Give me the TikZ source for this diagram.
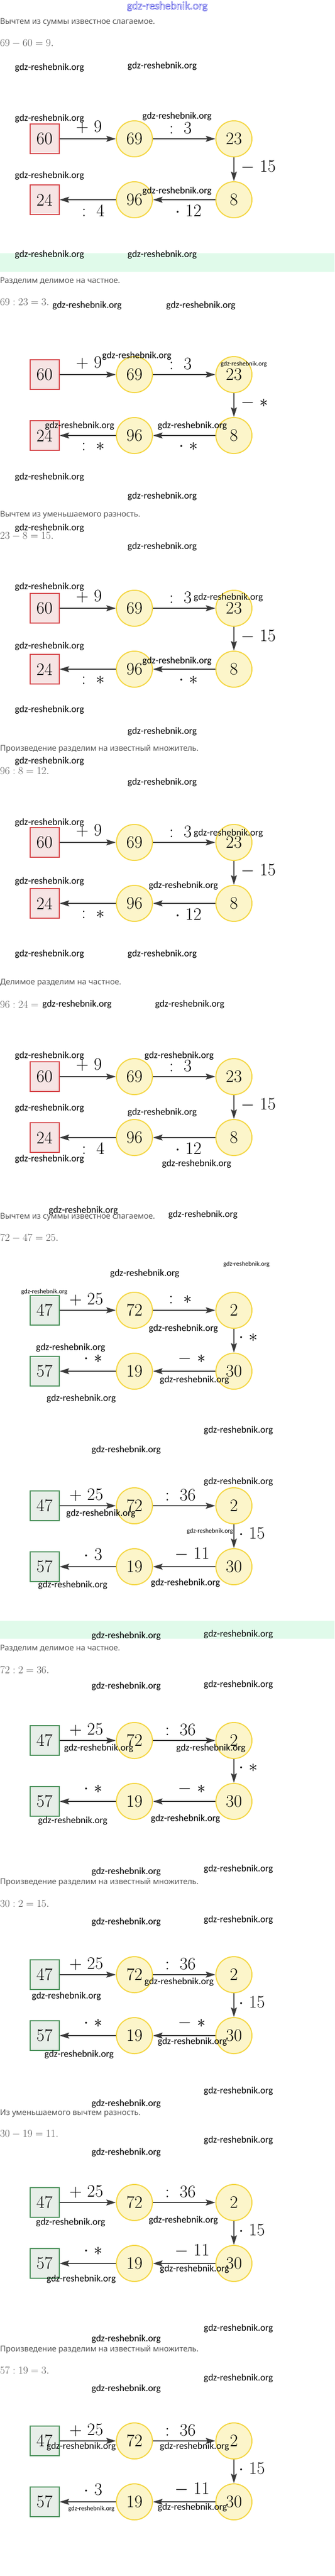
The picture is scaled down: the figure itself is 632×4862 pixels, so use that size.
\RequirePackage{fix-cm}
\documentclass[tikz,border=0pt]{standalone}
\usepackage{fontspec}
\newfontfamily\wmfont{Carlito}
\newfontfamily\rufont{Noto Sans}
\usetikzlibrary{arrows.meta}
\definecolor{circfill}{RGB}{252,245,202}
\definecolor{circline}{RGB}{244,214,66}
\definecolor{redline}{RGB}{214,72,76}
\definecolor{redfill}{RGB}{246,228,228}
\definecolor{grnline}{RGB}{76,146,92}
\definecolor{grnfill}{RGB}{231,238,232}
\definecolor{arrcol}{RGB}{58,58,58}
\definecolor{txtgray}{RGB}{85,85,85}
\definecolor{bandcol}{RGB}{224,250,234}
\definecolor{hdrblue}{RGB}{70,70,225}
\newcommand\outlinetext[1]{\special{pdf:literal direct 1 Tr 0.6 w}#1\special{pdf:literal direct 0 Tr}}
\tikzset{
  numc/.style={circle, draw=circline, fill=circfill, line width=2pt, minimum size=68pt, inner sep=0pt, font=\fontsize{33}{33}\selectfont},
  sqr/.style={rectangle, draw=redline, fill=redfill, line width=2pt, minimum width=55pt, minimum height=56pt, inner sep=0pt, font=\fontsize{33}{33}\selectfont},
  sqg/.style={sqr, draw=grnline, fill=grnfill},
  flow/.style={draw=arrcol, line width=2.6pt, -{Stealth[length=18pt,width=11pt,inset=3pt]}},
  oplab/.style={inner sep=0pt, font=\fontsize{33}{33}\selectfont},
  wm/.style={anchor=west, inner sep=0pt, font=\wmfont\fontsize{18}{18}\selectfont},
  wms/.style={anchor=west, inner sep=0pt, font=\wmfont\fontsize{12}{12}\selectfont},
  expl/.style={anchor=west, inner sep=0pt, text=txtgray, font=\rufont\fontsize{15}{15}\selectfont},
  eqn/.style={anchor=west, inner sep=0pt, text=txtgray, font=\fontsize{20}{20}\selectfont},
}
% red diagram: #1 name, #2 row y, #3 vertical label, #4 bottom-left label, #5 bottom-middle label
\newcommand\reddiag[5]{%
  \node[sqr]  (#1a) at (84,#2) {60};
  \node[numc] (#1b) at (254,#2) {69};
  \node[numc] (#1c) at (442,#2) {23};
  \node[numc] (#1d) at (442,#2+115) {8};
  \node[numc] (#1e) at (254,#2+115) {96};
  \node[sqr]  (#1f) at (84,#2+115) {24};
  \draw[flow] (#1a) -- (#1b);
  \draw[flow] (#1b) -- (#1c);
  \draw[flow] (#1c) -- (#1d);
  \draw[flow] (#1d) -- (#1e);
  \draw[flow] (#1e) -- (#1f);
  \node[oplab] (#1l1) at (168,#2-22) {$+\ 9$};
  \node[oplab] (#1l2) at (341,#2-20) {$:\ 3$};
  \node[oplab, anchor=west] (#1l3) at (455,#2+53) {$#3$};
  \node[oplab] (#1l4) at (176,#2+136) {$#4$};
  \node[oplab] (#1l5) at (356,#2+136) {$#5$};
}
% green diagram: #1 name, #2 row y, #3 top-middle label, #4 vertical, #5 bottom-left, #6 bottom-middle
\newcommand\grndiag[6]{%
  \node[sqg]  (#1a) at (84,#2) {47};
  \node[numc] (#1b) at (254,#2) {72};
  \node[numc] (#1c) at (442,#2) {2};
  \node[numc] (#1d) at (442,#2+115) {30};
  \node[numc] (#1e) at (254,#2+115) {19};
  \node[sqg]  (#1f) at (84,#2+115) {57};
  \draw[flow] (#1a) -- (#1b);
  \draw[flow] (#1b) -- (#1c);
  \draw[flow] (#1c) -- (#1d);
  \draw[flow] (#1d) -- (#1e);
  \draw[flow] (#1e) -- (#1f);
  \node[oplab] (#1l1) at (163,#2-20) {$+\ 25$};
  \node[oplab] (#1l2) at (341,#2-20) {$#3$};
  \node[oplab, anchor=west] (#1l3) at (451,#2+52) {$#4$};
  \node[oplab] (#1l4) at (176,#2+92) {$#5$};
  \node[oplab] (#1l5) at (363,#2+91) {$#6$};
}
\begin{document}
\begin{tikzpicture}[x=1pt,y=-1pt]
\fill[white] (0,0) rectangle (632,4862);
\useasboundingbox (0,0) rectangle (632,4862);
\fill[bandcol] (0,478) rectangle (632,513);
\fill[bandcol] (0,3059) rectangle (632,3093);
\node[inner sep=0pt, text=hdrblue, font=\wmfont\fontsize{21}{21}\selectfont] (hdr) at (316,12) {\outlinetext{gdz-reshebnik.org}};

% explanations
\node[expl] (t1) at (0,42) {Вычтем из суммы известное слагаемое.};
\node[eqn] (e1) at (0,82) {$69-60=9.$};
\node[expl] (t2) at (0,530) {Разделим делимое на частное.};
\node[eqn] (e2) at (0,570) {$69:23=3.$};
\node[expl] (t3) at (0,972) {Вычтем из уменьшаемого разность.};
\node[eqn] (e3) at (0,1012) {$23-8=15.$};
\node[expl] (t4) at (0,1414) {Произведение разделим на известный множитель.};
\node[eqn] (e4) at (0,1455) {$96:8=12.$};
\node[expl] (t5) at (0,1855) {Делимое разделим на частное.};
\node[eqn] (e5) at (0,1896) {$96:24=$};
\node[expl] (t6) at (0,2297) {Вычтем из суммы известное слагаемое.};
\node[eqn] (e6) at (0,2337) {$72-47=25.$};
\node[expl] (t8) at (0,3111) {Разделим делимое на частное.};
\node[eqn] (e8) at (0,3152) {$72:2=36.$};
\node[expl] (t9) at (0,3553) {Произведение разделим на известный множитель.};
\node[eqn] (e9) at (0,3593) {$30:2=15.$};
\node[expl] (t10) at (0,3989) {Из уменьшаемого вычтем разность.};
\node[eqn] (e10) at (0,4028) {$30-19=11.$};
\node[expl] (t11) at (0,4435) {Произведение разделим на известный множитель.};
\node[eqn] (e11) at (0,4474) {$57:19=3.$};

% diagrams
\reddiag{dA}{262}{-\ 15}{:\ 4}{\cdot\ 12}
\reddiag{dB}{707}{-\ \ast}{:\ \ast}{\cdot\ \ast}
\reddiag{dC}{1148}{-\ 15}{:\ \ast}{\cdot\ \ast}
\reddiag{dD}{1590}{-\ 15}{:\ \ast}{\cdot\ 12}
\reddiag{dE}{2032}{-\ 15}{:\ 4}{\cdot\ 12}
\grndiag{gA}{2473}{:\ \ast}{\cdot\ \ast}{\cdot\ \ast}{-\ \ast}
\grndiag{gB}{2842}{:\ 36}{\cdot\ 15}{\cdot\ 3}{-\ 11}
\grndiag{gC}{3285}{:\ 36}{\cdot\ \ast}{\cdot\ \ast}{-\ \ast}
\grndiag{gD}{3727}{:\ 36}{\cdot\ 15}{\cdot\ \ast}{-\ \ast}
\grndiag{gE}{4157}{:\ 36}{\cdot\ 15}{\cdot\ \ast}{-\ 11}
\grndiag{gF}{4607}{:\ 36}{\cdot\ 15}{\cdot\ 3}{-\ 11}

% watermarks
\foreach \i/\x/\y in {1/28/128,2/241/125,3/28/224,4/269/220,5/28/332,6/269/361,
  7/28/481,8/241/481,9/99/577,10/314/577,11/193/672,12/85/804,13/298/804,
  14/28/901,15/241/937,16/28/997,17/241/1032,18/28/1108,19/366/1128,20/28/1220,
  21/269/1248,22/28/1340,23/241/1381,24/28/1437,25/241/1477,26/28/1553,27/366/1573,
  28/28/1664,29/281/1672,30/28/1801,31/241/1801,32/80/1896,33/293/1896,34/28/1993,
  35/273/1993,36/28/2092,37/241/2100,38/28/2188,39/306/2197,40/92/2285,41/318/2293,
  42/208/2404,43/281/2508,44/68/2544,45/302/2605,46/88/2640,47/385/2700,48/173/2737,
  49/385/2797,50/125/2857,51/72/2992,52/285/2988,53/173/3088,54/385/3085,55/173/3183,
  56/385/3180,57/121/3300,58/333/3300,59/72/3437,60/285/3433,61/173/3533,62/385/3528,
  63/173/3628,64/385/3624,65/273/3741,66/60/3768,67/298/3854,68/84/3878,69/385/3947,
  70/173/3971,71/385/4040,72/173/4063,73/68/4195,74/281/4191,75/302/4283,76/88/4302,
  77/385/4395,78/173/4415,79/385/4489,80/173/4509,81/88/4618,82/302/4618,83/298/4733}
  {\node[wm] (wm\i) at (\x,\y) {gdz-reshebnik.org};}
\foreach \i/\x/\y in {1/417/687,2/422/2386,3/40/2438,4/353/2890,5/129/4735}
  {\node[wms] (wms\i) at (\x,\y) {gdz-reshebnik.org};}
\end{tikzpicture}
\end{document}
